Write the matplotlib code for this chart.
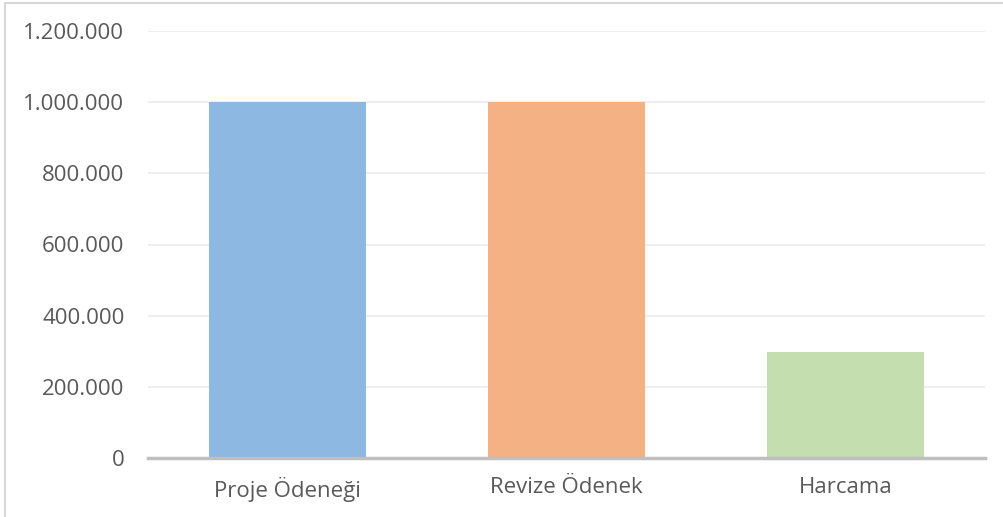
import matplotlib
matplotlib.use("Agg")
import matplotlib.pyplot as plt
from matplotlib.patches import Rectangle
from matplotlib.ticker import FuncFormatter

categories = ["Proje Ödeneği", "Revize Ödenek", "Harcama"]
values = [1000000, 1000000, 298000]
bar_colors = ["#8DB8E2", "#F4B183", "#C5DEB0"]
yticks = [0, 200000, 400000, 600000, 800000, 1000000, 1200000]

plt.rcParams['font.family'] = ['Open Sans', 'DejaVu Sans']

fig = plt.figure(figsize=(10.04, 5.17), dpi=100)
ax = fig.add_axes([148 / 1004, 1 - 458 / 517, 837 / 1004, 427 / 517])

# chart frame
fig.patches.append(Rectangle((5 / 1004, -0.1), 1.2, (517 - 3) / 517 + 0.1, transform=fig.transFigure,
                             fill=False, edgecolor="#D0D0D0", linewidth=1.2))

x = range(len(categories))
ax.bar(x, values, width=0.56, color=bar_colors, zorder=2)

ax.set_xlim(-0.5, 2.5)
ax.set_ylim(0, 1200000)
ax.set_yticks(yticks)
ax.yaxis.set_major_formatter(FuncFormatter(lambda v, p: f"{int(v):,}".replace(",", ".")))
ax.set_xticks(list(x))
ax.set_xticklabels(categories)

ax.grid(axis="y", color="#EBEBEB", linewidth=1.2, zorder=0)
for s in ["top", "right", "left"]:
    ax.spines[s].set_visible(False)
ax.spines["bottom"].set_color("#BFBFBF")
ax.spines["bottom"].set_linewidth(2.5)
ax.spines["bottom"].set_zorder(3)
ax.tick_params(axis="both", length=0, labelsize=16, colors="#595959")
ax.tick_params(axis="y", pad=17)
ax.tick_params(axis="x", pad=14)

fig.savefig("out.png", dpi=100)
